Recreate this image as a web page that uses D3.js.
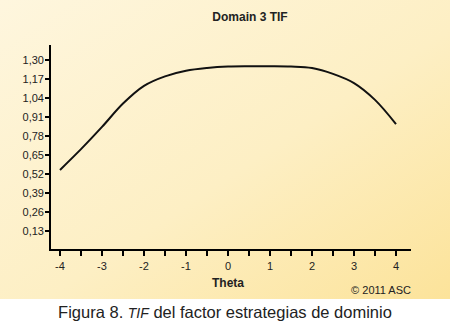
<!doctype html>
<html>
<head>
<meta charset="utf-8">
<script src="https://d3js.org/d3.v7.min.js"></script>
<style>
  body { margin:0; background:#fff; }
  svg { display:block; }
  text { font-family:"Liberation Sans", Arial, sans-serif; fill:#222; }
</style>
</head>
<body>
<script>
// chart values
var theta = [-4,-3.5,-3,-2.5,-2,-1.5,-1,-0.5,0,0.5,1,1.5,2,2.5,3,3.5,4];
var tif   = [0.548,0.69,0.842,1.002,1.123,1.188,1.226,1.245,1.255,1.257,1.257,1.255,1.245,1.205,1.142,1.027,0.861];
var yTicks = [0.13,0.26,0.39,0.52,0.65,0.78,0.91,1.04,1.17,1.30];
var xTicks = [-4,-3,-2,-1,0,1,2,3,4];

var W = 450, H = 331;
var svg = d3.select("body").append("svg").attr("width",W).attr("height",H);

//background gradient
var grad = svg.append("defs").append("linearGradient")
    .attr("id","bg").attr("x1","0%").attr("y1","0%").attr("x2","100%").attr("y2","100%");
grad.append("stop").attr("offset","0%").attr("stop-color","#fef6de");
grad.append("stop").attr("offset","55%").attr("stop-color","#fdefc4");
grad.append("stop").attr("offset","100%").attr("stop-color","#fce39a");
svg.append("rect").attr("width",W).attr("height",299).attr("fill","url(#bg)");

var x = d3.scaleLinear().domain([-4,4]).range([60,396]);
var y = d3.scaleLinear().domain([0,1.30]).range([250,60]);

//axes lines
svg.append("line").attr("x1",50).attr("x2",50).attr("y1",45).attr("y2",251)
    .attr("stroke","#000").attr("stroke-width",2);
svg.append("line").attr("x1",49).attr("x2",411).attr("y1",250).attr("y2",250)
    .attr("stroke","#000").attr("stroke-width",2);

//y ticks
var yg = svg.append("g");
yg.selectAll("line").data(yTicks).enter().append("line")
    .attr("x1",45).attr("x2",50)
    .attr("y1",function(d){return Math.round(y(d));})
    .attr("y2",function(d){return Math.round(y(d));})
    .attr("stroke","#000").attr("stroke-width",2);
yg.selectAll("text").data(yTicks).enter().append("text")
    .attr("x",44).attr("y",function(d){return y(d);}).attr("dy","0.35em")
    .attr("text-anchor","end").attr("font-size",11)
    .text(function(d){return d3.format(".2f")(d).replace(".",",");});

//x ticks every half unit
var xg = svg.append("g");
xg.selectAll("line").data(d3.range(-4,4.01,0.5)).enter().append("line")
    .attr("x1",function(d){return Math.round(x(d));})
    .attr("x2",function(d){return Math.round(x(d));})
    .attr("y1",250).attr("y2",256)
    .attr("stroke","#000").attr("stroke-width",2);
xg.selectAll("text").data(xTicks).enter().append("text")
    .attr("x",function(d){return x(d);}).attr("y",270)
    .attr("text-anchor","middle").attr("font-size",11)
    .text(function(d){return d;});

//curve
var line = d3.line()
    .x(function(d,i){return x(theta[i]);})
    .y(function(d){return y(d);})
    .curve(d3.curveCatmullRom);
svg.append("path").datum(tif).attr("d",line)
    .attr("fill","none").attr("stroke","#111").attr("stroke-width",2);

//texts
svg.append("text").attr("x",250).attr("y",21).attr("text-anchor","middle")
    .attr("font-size",12).attr("font-weight","bold").text("Domain 3 TIF");
svg.append("text").attr("x",228).attr("y",287).attr("text-anchor","middle")
    .attr("font-size",12).attr("font-weight","bold").text("Theta");
svg.append("text").attr("x",411).attr("y",294).attr("text-anchor","end")
    .attr("font-size",11).text("\u00a9 2011 ASC");

var cap = svg.append("text").attr("x",225).attr("y",318).attr("text-anchor","middle")
    .attr("font-size",16.5);
cap.append("tspan").text("Figura 8. ");
cap.append("tspan").attr("font-style","italic").attr("font-size",14).text("TIF");
cap.append("tspan").text(" del factor estrategias de dominio");
</script>
</body>
</html>
